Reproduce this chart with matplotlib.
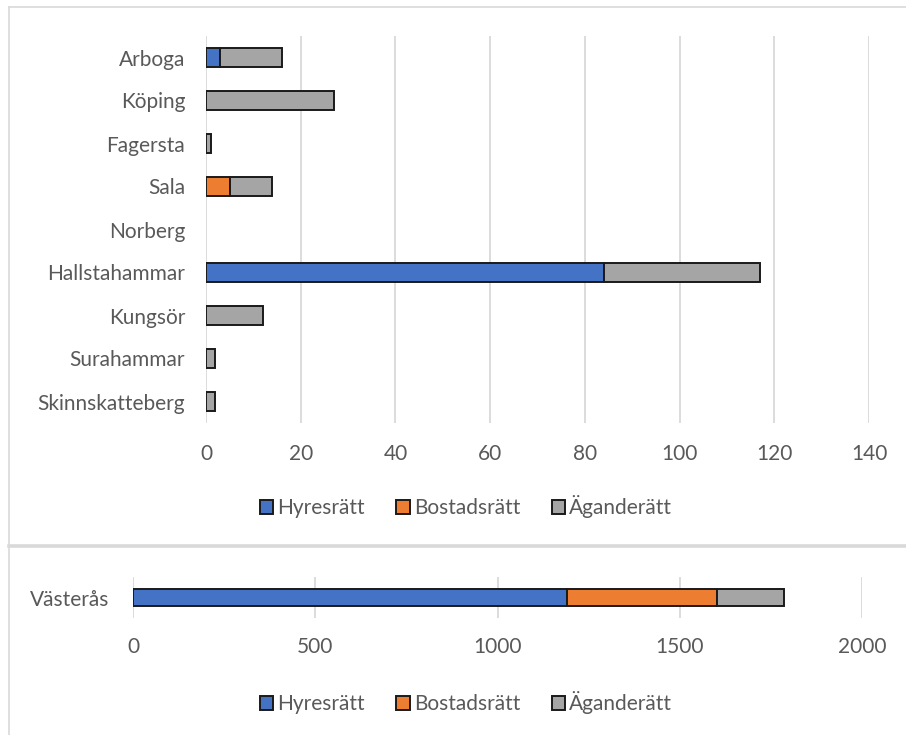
import matplotlib
matplotlib.use("Agg")
import matplotlib.pyplot as plt
from matplotlib.patches import Patch
from matplotlib.lines import Line2D

# Data: dwellings by tenure form per municipality
municipalities = ["Arboga", "Köping", "Fagersta", "Sala", "Norberg",
                  "Hallstahammar", "Kungsör", "Surahammar", "Skinnskatteberg"]
hyresratt = [3, 0, 0, 0, 0, 84, 0, 0, 0]
bostadsratt = [0, 0, 0, 5, 0, 0, 0, 0, 0]
aganderatt = [13, 27, 1, 9, 0, 33, 12, 2, 2]

city = ["Västerås"]
city_hyresratt = [1192]
city_bostadsratt = [410]
city_aganderatt = [183]

series_names = ["Hyresrätt", "Bostadsrätt", "Äganderätt"]
colors = ["#4472C4", "#ED7D31", "#A5A5A5"]
top_ticks = [0, 20, 40, 60, 80, 100, 120, 140]
bottom_ticks = [0, 500, 1000, 1500, 2000]

TEXT = "#595959"
GRID = "#D9D9D9"
EDGE = "#1A1A1A"
FONT = "Lato"
FS = 15

plt.rcParams["font.family"] = [FONT, "DejaVu Sans"]

W, H = 906, 735
fig = plt.figure(figsize=(W / 100, H / 100), dpi=100)


def fx(px):
    return px / W


def fy(py):
    return 1 - py / H


def stacked(ax, cats, series, bar_h):
    y = list(range(len(cats)))
    left = [0] * len(cats)
    for vals, col in zip(series, colors):
        lws = [1.4 if v > 0 else 0 for v in vals]
        ax.barh(y, vals, left=left, height=bar_h, color=col,
                edgecolor=EDGE, linewidth=lws, zorder=3)
        left = [a + b for a, b in zip(left, vals)]
    ax.set_yticks(y)
    ax.set_yticklabels(cats)
    ax.set_ylim(len(cats) - 0.5, -0.5)
    for s in ax.spines.values():
        s.set_visible(False)
    ax.grid(axis="x", color=GRID, linewidth=1.3, zorder=0)
    ax.tick_params(length=0, colors=TEXT, labelsize=FS)


# Top chart: smaller municipalities
ax1 = fig.add_axes([fx(206), fy(423), fx(869) - fx(206), fy(36) - fy(423)])
stacked(ax1, municipalities, [hyresratt, bostadsratt, aganderatt], 0.42)
ax1.set_xlim(0, 140)
ax1.set_xticks(top_ticks)
ax1.tick_params(axis="y", pad=15)
ax1.tick_params(axis="x", pad=15)

# Bottom chart: Västerås
ax2 = fig.add_axes([fx(133), fy(618), fx(862) - fx(133), fy(577) - fy(618)])
stacked(ax2, city, [city_hyresratt, city_bostadsratt, city_aganderatt], 0.42)
ax2.set_xlim(0, 2000)
ax2.set_xticks(bottom_ticks)
ax2.tick_params(axis="y", pad=17)
ax2.tick_params(axis="x", pad=14)

handles = [Patch(facecolor=c, edgecolor=EDGE, linewidth=1.4) for c in colors]
for ycen in (507, 703):
    fig.legend(handles, series_names, loc="center", bbox_to_anchor=(fx(466), fy(ycen)),
               ncol=3, frameon=False, fontsize=FS, labelcolor=TEXT,
               handlelength=0.65, handleheight=0.65, handletextpad=0.2,
               columnspacing=1.5)

# Chart frames
fig.add_artist(Line2D([fx(9), 1], [fy(7), fy(7)], color=GRID, linewidth=1.2))
fig.add_artist(Line2D([fx(9), fx(9)], [fy(7), 0], color=GRID, linewidth=1.2))
fig.add_artist(Line2D([fx(9), 1], [fy(546), fy(546)], color=GRID, linewidth=2.6))

fig.savefig("out.png", dpi=100)
